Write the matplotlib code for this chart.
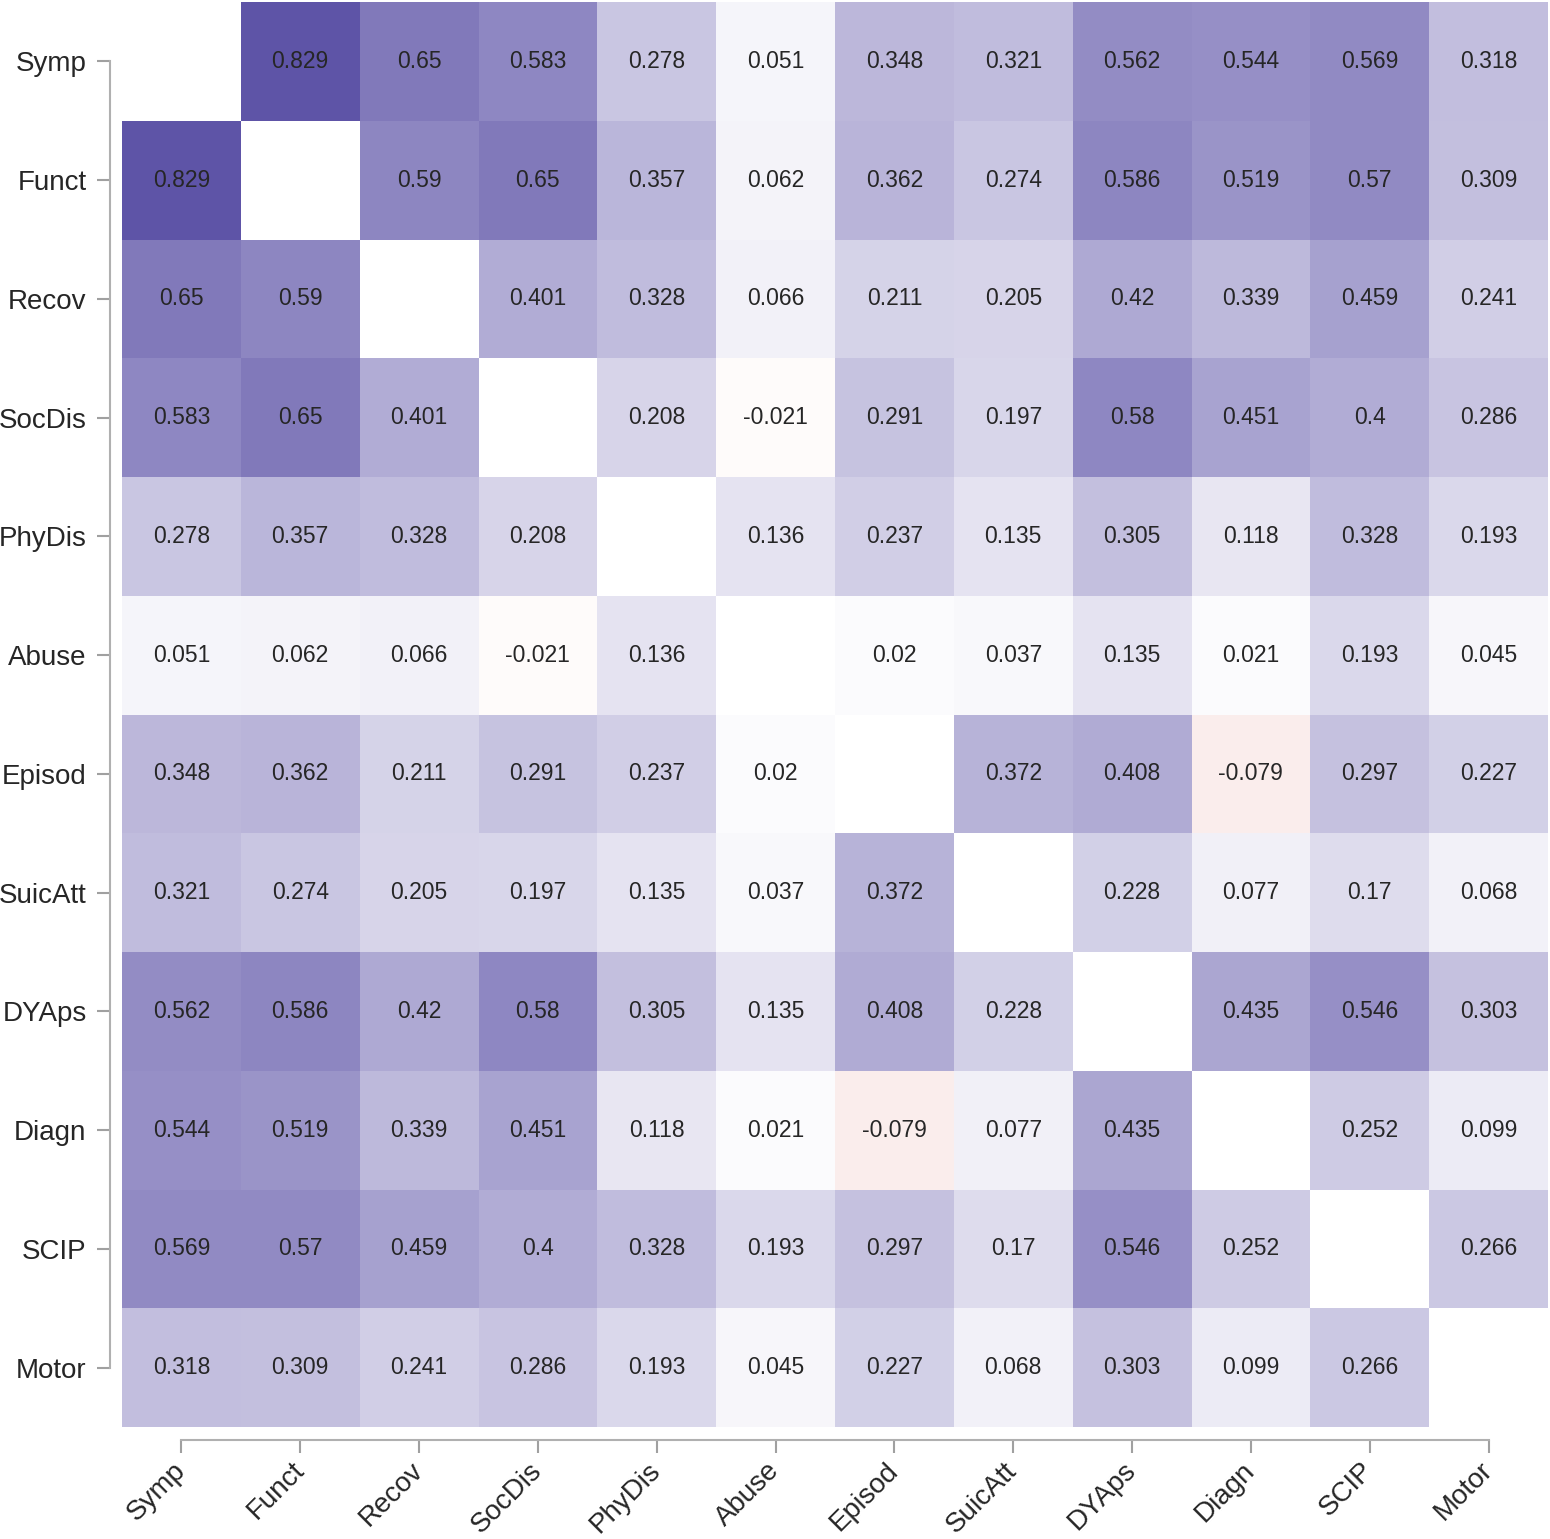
import numpy as np
import matplotlib
matplotlib.use("Agg")
import matplotlib.pyplot as plt
from matplotlib.colors import LinearSegmentedColormap

labels = ["Symp", "Funct", "Recov", "SocDis", "PhyDis", "Abuse",
          "Episod", "SuicAtt", "DYAps", "Diagn", "SCIP", "Motor"]

nan = np.nan
corr = [
    [nan, 0.829, 0.65, 0.583, 0.278, 0.051, 0.348, 0.321, 0.562, 0.544, 0.569, 0.318],
    [0.829, nan, 0.59, 0.65, 0.357, 0.062, 0.362, 0.274, 0.586, 0.519, 0.57, 0.309],
    [0.65, 0.59, nan, 0.401, 0.328, 0.066, 0.211, 0.205, 0.42, 0.339, 0.459, 0.241],
    [0.583, 0.65, 0.401, nan, 0.208, -0.021, 0.291, 0.197, 0.58, 0.451, 0.4, 0.286],
    [0.278, 0.357, 0.328, 0.208, nan, 0.136, 0.237, 0.135, 0.305, 0.118, 0.328, 0.193],
    [0.051, 0.062, 0.066, -0.021, 0.136, nan, 0.02, 0.037, 0.135, 0.021, 0.193, 0.045],
    [0.348, 0.362, 0.211, 0.291, 0.237, 0.02, nan, 0.372, 0.408, -0.079, 0.297, 0.227],
    [0.321, 0.274, 0.205, 0.197, 0.135, 0.037, 0.372, nan, 0.228, 0.077, 0.17, 0.068],
    [0.562, 0.586, 0.42, 0.58, 0.305, 0.135, 0.408, 0.228, nan, 0.435, 0.546, 0.303],
    [0.544, 0.519, 0.339, 0.451, 0.118, 0.021, -0.079, 0.077, 0.435, nan, 0.252, 0.099],
    [0.569, 0.57, 0.459, 0.4, 0.328, 0.193, 0.297, 0.17, 0.546, 0.252, nan, 0.266],
    [0.318, 0.309, 0.241, 0.286, 0.193, 0.045, 0.227, 0.068, 0.303, 0.099, 0.266, nan],
]

plt.rcParams["font.family"] = ["Liberation Sans", "DejaVu Sans"]

data = np.array(corr)
n = len(labels)

# white in the middle, peach for negative, blue-purple for positive
cmap = LinearSegmentedColormap.from_list(
    "corr", [(200 / 255, 40 / 255, 20 / 255), (1, 1, 1), (62 / 255, 50 / 255, 150 / 255)]
)
cmap.set_bad("white")

fig = plt.figure(figsize=(15.5, 15.39), dpi=100)
ax = fig.add_axes([122 / 1550, 1 - 1427 / 1539, 1426 / 1550, 1425 / 1539])

ax.pcolormesh(np.ma.masked_invalid(data), cmap=cmap, vmin=-1, vmax=1)
ax.set_xlim(0, n)
ax.set_ylim(n, 0)

for i in range(n):
    for j in range(n):
        v = data[i, j]
        if np.isnan(v):
            continue
        ax.text(j + 0.5, i + 0.5, f"{v:g}", ha="center", va="center",
                fontsize=16.5, color="#262626")

ticks = np.arange(n) + 0.5

# spines first: moving them resets the tick styling
for side in ["top", "right"]:
    ax.spines[side].set_visible(False)
for side in ["left", "bottom"]:
    ax.spines[side].set_color("#b0b0b0")
    ax.spines[side].set_linewidth(1.5)
    ax.spines[side].set_position(("outward", 9))
ax.spines["left"].set_bounds(ticks[0], ticks[-1])
ax.spines["bottom"].set_bounds(ticks[0], ticks[-1])

ax.set_xticks(ticks)
ax.set_yticks(ticks)
ax.set_xticklabels(labels, rotation=45, ha="right", va="center",
                   rotation_mode="anchor", fontsize=20, color="#262626")
ax.set_yticklabels(labels, fontsize=20, color="#262626")
ax.tick_params(axis="both", length=9.5, width=1.5, color="#a0a0a0", pad=7)
ax.tick_params(axis="x", pad=10)

plt.savefig("out.png", dpi=100)
